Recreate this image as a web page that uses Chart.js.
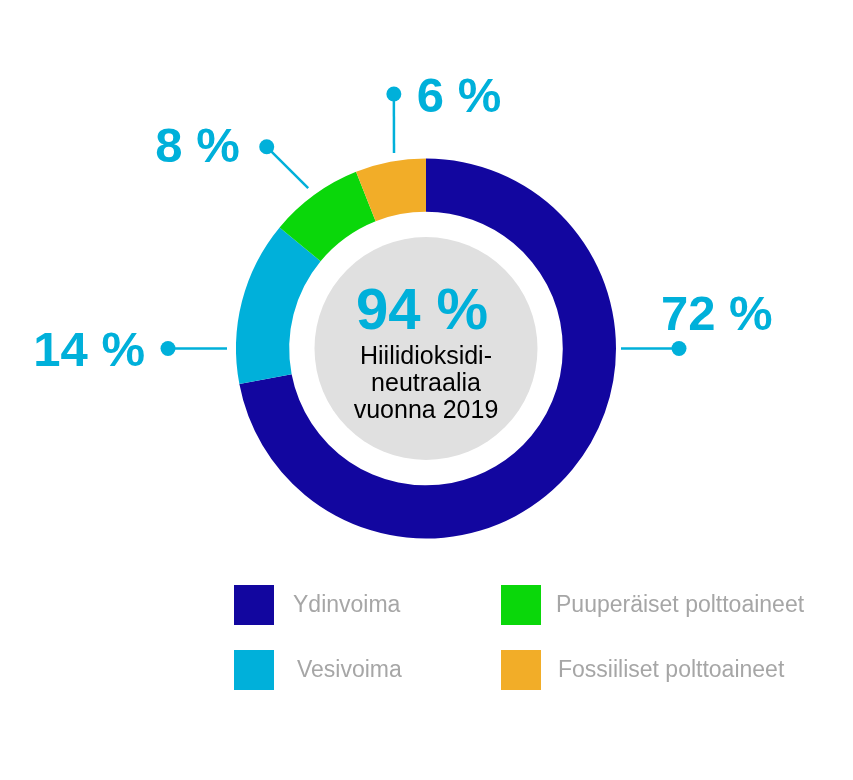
<!DOCTYPE html>
<html>
<head>
<meta charset="utf-8">
<script src="https://cdn.jsdelivr.net/npm/chart.js@4/dist/chart.umd.min.js"></script>
<style>
  html, body { margin: 0; padding: 0; background: #fff; }
  #wrap { position: relative; width: 853px; height: 780px; }
</style>
</head>
<body>
<div id="wrap"><canvas id="energia"></canvas></div>
<script>
const labels = ['Ydinvoima', 'Vesivoima', 'Puuperäiset polttoaineet', 'Fossiiliset polttoaineet'];
const shares = [72, 14, 8, 6];
const colors = ['#12069f', '#00b0da', '#0ad70a', '#f2ad28'];
const centerValue = '94 %';
const centerText = ['Hiilidioksidi-', 'neutraalia', 'vuonna 2019'];

const FONT = '"Liberation Sans", Arial, sans-serif';
const CYAN = '#00b0da';

// leader lines: polar points (deg from top, clockwise, radius) + text offset from the dot
const callouts = [
  {from: [90, 195], to: [90, 253], dx: -18, dy: -19, align: 'left'},
  {from: [270, 199], to: [270, 258], dx: -23, dy: 17, align: 'right'},
  {from: [323.7, 199], to: [321.7, 257], dx: -27, dy: 15, align: 'right'},
  {from: [350.7, 198], to: [352.8, 256.5], dx: 23, dy: 18, align: 'left'}
];

function polar(cx, cy, deg, r) {
  const a = (deg - 90) * Math.PI / 180;
  return [cx + Math.cos(a) * r, cy + Math.sin(a) * r];
}

const decorations = {
  id: 'decorations',
  beforeDatasetsDraw(chart) {
    const arc = chart.getDatasetMeta(0).data[0];
    const ctx = chart.ctx;
    ctx.save();
    ctx.fillStyle = '#e0e0e0';
    ctx.beginPath();
    ctx.arc(arc.x, arc.y, arc.innerRadius * 0.815, 0, Math.PI * 2);
    ctx.fill();
    ctx.restore();
  },
  afterDraw(chart) {
    const arc = chart.getDatasetMeta(0).data[0];
    const cx = arc.x, cy = arc.y;
    const ctx = chart.ctx;
    ctx.save();

    // center text
    ctx.textAlign = 'center';
    ctx.textBaseline = 'alphabetic';
    ctx.fillStyle = CYAN;
    ctx.font = 'bold 58px ' + FONT;
    ctx.fillText(centerValue, cx - 4, cy - 20);
    ctx.fillStyle = '#000';
    ctx.font = '25px ' + FONT;
    centerText.forEach((t, i) => ctx.fillText(t, cx, cy + 15 + i * 27));

    // callouts
    const ds = chart.data.datasets[0];
    callouts.forEach((c, i) => {
      const p1 = polar(cx, cy, c.from[0], c.from[1]);
      const p2 = polar(cx, cy, c.to[0], c.to[1]);
      ctx.strokeStyle = CYAN;
      ctx.lineWidth = 2.5;
      ctx.beginPath();
      ctx.moveTo(p1[0], p1[1]);
      ctx.lineTo(p2[0], p2[1]);
      ctx.stroke();
      ctx.fillStyle = CYAN;
      ctx.beginPath();
      ctx.arc(p2[0], p2[1], 7.5, 0, Math.PI * 2);
      ctx.fill();
      ctx.font = 'bold 49px ' + FONT;
      ctx.textAlign = c.align;
      ctx.fillText(ds.data[i] + ' %', p2[0] + c.dx, p2[1] + c.dy);
    });

    // legend, two columns
    const colX = [234, 501];
    const rowY = [585, 650];
    const textX = [[293, 297], [556, 558]];
    ctx.font = '23px ' + FONT;
    ctx.textAlign = 'left';
    ctx.textBaseline = 'middle';
    chart.data.labels.forEach((lab, i) => {
      const col = i < 2 ? 0 : 1;
      const row = i % 2;
      ctx.fillStyle = ds.backgroundColor[i];
      ctx.fillRect(colX[col], rowY[row], 40, 40);
      ctx.fillStyle = '#a6a6a6';
      ctx.fillText(lab, textX[col][row], rowY[row] + 21);
    });
    ctx.restore();
  }
};

new Chart(document.getElementById('energia'), {
  type: 'doughnut',
  data: {
    labels: labels,
    datasets: [{
      data: shares,
      backgroundColor: colors,
      borderWidth: 0,
      hoverOffset: 0
    }]
  },
  options: {
    responsive: true,
    maintainAspectRatio: false,
    animation: false,
    cutout: '72%',
    layout: {
      padding: {left: 236, right: 237, top: 158.5, bottom: 241.5}
    },
    plugins: {
      legend: {display: false},
      tooltip: {enabled: false}
    }
  },
  plugins: [decorations]
});
</script>
</body>
</html>
